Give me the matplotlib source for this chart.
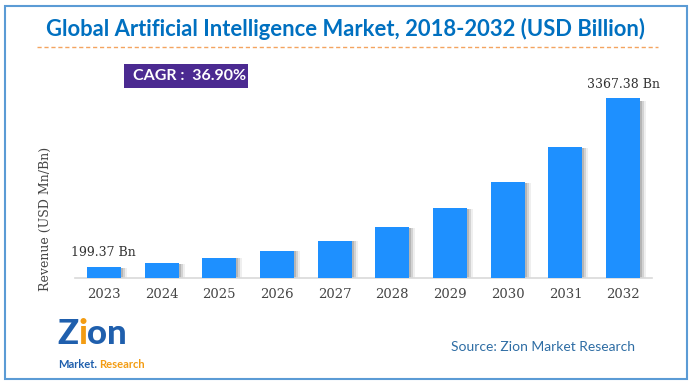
import matplotlib
matplotlib.use("Agg")
import matplotlib.pyplot as plt
from matplotlib.patches import Rectangle
import matplotlib.transforms as mtransforms

years = ["2023", "2024", "2025", "2026", "2027", "2028", "2029", "2030", "2031", "2032"]
revenue = [199.37, 273, 374, 512, 700, 958, 1312, 1796, 2460, 3367.38]
first_label = "199.37 Bn"
last_label = "3367.38 Bn"
title = "Global Artificial Intelligence Market, 2018-2032 (USD Billion)"
cagr = "CAGR :  36.90%"
ylabel = "Revenue (USD Mn/Bn)"
source = "Source: Zion Market Research"

W, H = 692, 384
fig = plt.figure(figsize=(W / 100, H / 100), dpi=100)
fig.patch.set_facecolor("white")

def fx(px):
    return px / W

def fy(py):
    return 1 - py / H

# border
fig.add_artist(Rectangle((fx(5), fy(379)), fx(682), 373 / H, transform=fig.transFigure,
                         fill=False, edgecolor="#5B9BD5", linewidth=1.5))

# title
fig.text(fx(345), fy(29), title, ha="center", va="center", fontsize=15.8,
         fontweight="bold", color="#0070C0", family="Lato")
# dashed line
fig.add_artist(plt.Line2D([fx(37), fx(658)], [fy(47), fy(47)], transform=fig.transFigure,
                          color="#F4A460", linewidth=1.0, linestyle=(0, (3, 2))))

# axes
ax_left, ax_right, ax_bottom, ax_top = 75, 652, 278, 60
ax = fig.add_axes([fx(ax_left), fy(ax_bottom), fx(ax_right - ax_left), (ax_bottom - ax_top) / H])
ymax = revenue[-1] * (ax_bottom - ax_top) / (ax_bottom - 98)
ax.set_ylim(0, ymax)
ax.set_xlim(-0.5, len(years) - 0.5)
x = list(range(len(years)))

# shadows
for dx, a in [(2, 0.35), (4, 0.25), (6, 0.12)]:
    off = mtransforms.offset_copy(ax.transData, fig=fig, x=dx, y=0, units="dots")
    ax.bar(x, [v * 0.985 for v in revenue], width=0.59, color="#808080", alpha=a,
           transform=off, zorder=1, linewidth=0)
ax.bar(x, revenue, width=0.59, color="#1E90FF", zorder=3, linewidth=0)

for s in ["top", "right", "left"]:
    ax.spines[s].set_visible(False)
ax.spines["bottom"].set_color("#D9D9D9")
ax.spines["bottom"].set_linewidth(1.2)
ax.set_yticks([])
ax.set_xticks(x)
ax.set_xticklabels(years, fontsize=9.5, color="#454545", family="DejaVu Serif")
ax.tick_params(axis="x", length=0, pad=7)

ax.annotate(first_label, (0, revenue[0]), xytext=(0, 6), textcoords="offset points",
            ha="center", va="bottom", fontsize=9, color="#333333", family="DejaVu Serif")
ax.annotate(last_label, (9, revenue[-1]), xytext=(0, 5), textcoords="offset points",
            ha="center", va="bottom", fontsize=9, color="#333333", family="DejaVu Serif")

fig.text(fx(45), fy(219), ylabel, rotation=90, ha="center", va="center", fontsize=9,
         color="#454545", family="DejaVu Serif")

# CAGR box
fig.add_artist(Rectangle((fx(124), fy(88)), fx(124), 24 / H, transform=fig.transFigure,
                         facecolor="#4B2A91", edgecolor="none"))
fig.text(fx(190), fy(76.5), cagr, ha="center", va="center", fontsize=11.5, fontweight="bold",
         color="white", family="Lato")

# source
fig.text(fx(543), fy(347), source, ha="center", va="center", fontsize=10,
         color="#2E6DA4", family="Lato")

# logo approximation
zy = 334
fig.text(fx(57), fy(zy), "Z", ha="left", va="center", fontsize=25, fontweight="black",
         color="#1F5FAD", family="Lato")
fig.text(fx(78), fy(zy), "i", ha="left", va="center", fontsize=25, fontweight="black",
         color="#F39C12", family="Lato")
fig.text(fx(87), fy(zy), "on", ha="left", va="center", fontsize=25, fontweight="black",
         color="#1F5FAD", family="Lato")
t1 = fig.text(fx(58), fy(364), "Market.", ha="left", va="center", fontsize=8, fontweight="bold",
              color="#1F5FAD", family="Lato")
fig.canvas.draw()
bb = t1.get_window_extent()
fig.text((bb.x1 + 2) / W, fy(364), "Research", ha="left", va="center", fontsize=8,
         fontweight="bold", color="#F39C12", family="Lato")

fig.savefig("out.png", dpi=100, facecolor="white")
